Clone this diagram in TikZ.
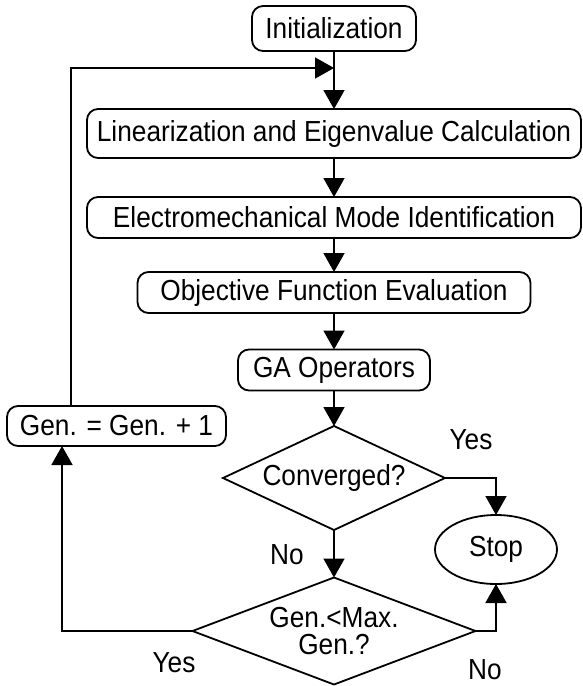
\documentclass[tikz,border=0pt]{standalone}
\usepackage{fontspec}
\setmainfont{Liberation Sans}[FakeStretch=0.905]
\usetikzlibrary{arrows.meta,shapes.geometric}
\begin{document}
\begin{tikzpicture}[x=1pt,y=-1pt,
  every node/.style={font=\fontsize{29}{26}\selectfont, inner sep=0pt, outer sep=0pt},
  procbox/.style={draw, line width=1.8pt, rounded corners=11pt, minimum height=#1},
  procbox/.default=43pt,
  decision/.style={draw, line width=1.8pt, diamond, align=center},
  link/.style={line width=1.8pt, -{Triangle[length=19pt,width=21pt]}},
  lbl/.style={}
]
\useasboundingbox (0,0) rectangle (582,686);

\node[procbox=45pt, minimum width=164pt] (init) at (334,28.5) {Initialization};
\node[procbox=49pt, minimum width=494pt] (lin) at (334,133.5) {Linearization and Eigenvalue Calculation};
\node[procbox=41pt, minimum width=494pt] (emm) at (334,217.5) {Electromechanical Mode Identification};
\node[procbox=41pt, minimum width=393pt] (obj) at (334,292.5) {Objective Function Evaluation};
\node[procbox=41pt, minimum width=192pt] (ga) at (334,370) {GA Operators};
\node[procbox=40pt, minimum width=219pt] (gen) at (116.5,426) {Gen. = Gen. + 1};
\node[decision, shape aspect=2.13, minimum width=222pt, minimum height=104pt] (conv) at (334,478) {Converged?};
\node[draw, line width=1.8pt, ellipse, minimum width=122pt, minimum height=69pt] (stop) at (496,549.5) {Stop};
\node[decision, shape aspect=2.64, minimum width=283pt, minimum height=107pt,
      font=\fontsize{29}{30}\selectfont] (maxg) at (334,631) {Gen.<Max.\\[-3pt]Gen.?};

\coordinate (j) at (334,68);
\coordinate (lx) at (71,0);
\coordinate (rx) at (62,0);

\draw[link] (init) -- (lin);
\draw[link] (lin) -- (emm);
\draw[link] (emm) -- (obj);
\draw[link] (obj) -- (ga);
\draw[link] (ga) -- (conv.north);
\draw[link] (conv.east) -| (stop.north);
\draw[link] (conv.south) -- (maxg.north);
\draw[link] (maxg.east) -| (stop.south);
\draw[link] (maxg.west) -| (gen.south -| rx);
\draw[link] (gen.north -| lx) |- (j);

\node[lbl] (yes1) at (471,440) {Yes};
\node[lbl] (no1) at (287,555) {No};
\node[lbl] (yes2) at (174,663) {Yes};
\node[lbl] (no2) at (485,670) {No};
\end{tikzpicture}
\end{document}
